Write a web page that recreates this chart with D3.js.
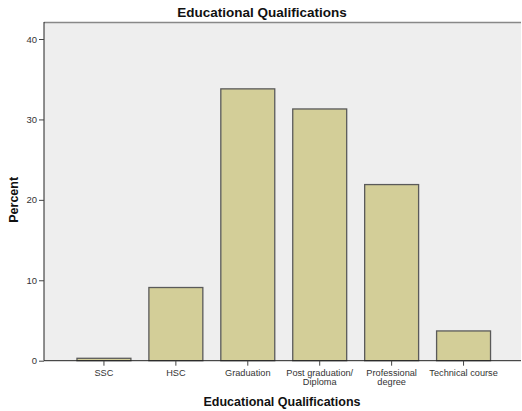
<!DOCTYPE html>
<html><head><meta charset="utf-8">
<script src="https://d3js.org/d3.v7.min.js"></script>
<style>body{margin:0;background:#fff}svg{display:block}</style>
</head><body>
<script>
const categories = ["SSC", "HSC", "Graduation", "Post graduation/\nDiploma", "Professional\ndegree", "Technical course"];
const percents = [0.3, 9.1, 33.8, 31.3, 21.9, 3.7];
const yTicks = [0, 10, 20, 30, 40];

const W = 522, H = 411;
const m = {left: 44, right: 1, top: 22, bottom: 50};
const svg = d3.select("body").append("svg").attr("width", W).attr("height", H);

const x = d3.scaleBand().domain(categories).range([45.5, 522]).paddingInner(0.25).paddingOuter(0.4375);
const y = d3.scaleLinear().domain([0, 40]).range([360.7, 39]);

svg.append("rect").attr("x", m.left).attr("y", m.top).attr("width", W - m.right - m.left).attr("height", 360.7 - m.top).attr("fill", "#eeeeee");
svg.append("line").attr("x1", m.left).attr("x2", W - m.right).attr("y1", m.top + 0.5).attr("y2", m.top + 0.5).attr("stroke", "#888").attr("stroke-width", 1.5);

svg.selectAll(".bar").data(categories).enter().append("rect")
  .attr("x", d => x(d)).attr("width", x.bandwidth())
  .attr("y", (d, i) => y(percents[i])).attr("height", (d, i) => y(0) - y(percents[i]))
  .attr("fill", "#d3ce98").attr("stroke", "#5a5a5a").attr("stroke-width", 1.3);

const yAxis = svg.append("g").attr("transform", `translate(${m.left},0)`)
  .call(d3.axisLeft(y).tickValues(yTicks).tickSize(5).tickSizeOuter(0).tickPadding(2));
yAxis.select(".domain").attr("stroke", "#222").attr("d", `M0,${m.top}V${y(0)}`);
yAxis.selectAll(".tick line").attr("stroke", "#444");
yAxis.selectAll("text").attr("font-family", "Arial, 'Liberation Sans', sans-serif").attr("font-size", 9.5).attr("fill", "#333");

const xAxis = svg.append("g").attr("transform", `translate(0,${y(0)})`)
  .call(d3.axisBottom(x).tickSize(5).tickSizeOuter(0).tickFormat(""));
xAxis.select(".domain").attr("stroke", "#222").attr("d", `M${m.left},0H${W - m.right}`);
xAxis.selectAll(".tick line").attr("stroke", "#444");
xAxis.selectAll(".tick").each(function(d) {
  const lines = d.split("\n");
  const t = d3.select(this).append("text").attr("fill", "#333").attr("text-anchor", "middle")
    .attr("font-family", "Arial, 'Liberation Sans', sans-serif").attr("font-size", 9.2);
  lines.forEach((l, i) => t.append("tspan").attr("x", 0).attr("y", 15 + i * 9.8).text(l));
});

svg.append("text").attr("x", 262).attr("y", 17).attr("text-anchor", "middle")
  .attr("font-family", "Arial, 'Liberation Sans', sans-serif").attr("font-weight", "bold").attr("font-size", 13.5)
  .attr("fill", "#111").text("Educational Qualifications");
svg.append("text").attr("x", 282).attr("y", 406).attr("text-anchor", "middle")
  .attr("font-family", "Arial, 'Liberation Sans', sans-serif").attr("font-weight", "bold").attr("font-size", 12.5)
  .attr("fill", "#111").text("Educational Qualifications");
svg.append("text").attr("transform", `translate(18,${y(20)}) rotate(-90)`).attr("text-anchor", "middle")
  .attr("font-family", "Arial, 'Liberation Sans', sans-serif").attr("font-weight", "bold").attr("font-size", 12.5)
  .attr("fill", "#111").text("Percent");
</script>
</body></html>
